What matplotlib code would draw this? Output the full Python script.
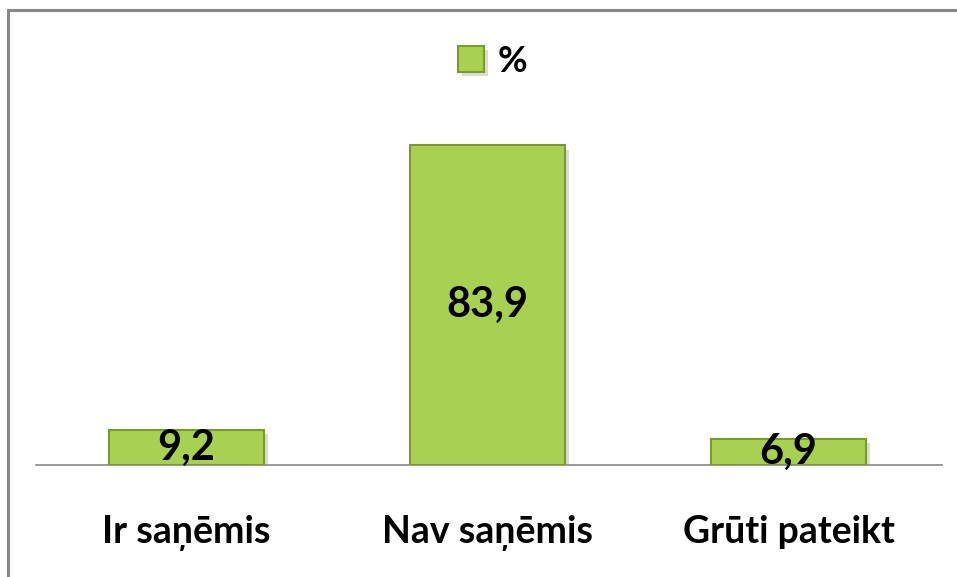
import matplotlib.pyplot as plt
from matplotlib.patches import Rectangle
import matplotlib.patheffects as pe

categories = ['Ir saņēmis', 'Nav saņēmis', 'Grūti pateikt']
values = [9.2, 83.9, 6.9]
value_labels = ['9,2', '83,9', '6,9']
series_name = '%'

plt.rcParams['font.family'] = ['Lato', 'DejaVu Sans']

W, H = 957, 577
fig = plt.figure(figsize=(W / 100, H / 100), dpi=100)
ax = fig.add_axes([36 / W, (H - 465) / H, (942 - 36) / W, (465 - 84) / H])

x = range(len(categories))
bars = ax.bar(x, values, width=0.515, color='#a8d152', edgecolor='#7a9a30',
              linewidth=1.5, label=series_name, zorder=3)
for b in bars:
    b.set_path_effects([pe.SimplePatchShadow(offset=(3, -3), shadow_rgbFace='#999999', alpha=0.35),
                        pe.Normal()])

for i, (v, t) in enumerate(zip(values, value_labels)):
    ax.text(i, v / 2, t, ha='center', va='center', fontsize=30, fontweight='bold',
            color='black', zorder=5)

ax.set_xlim(-0.5, 2.51)
ax.set_ylim(0, 100)
ax.set_xticks(list(x))
ax.set_xticklabels(categories, fontsize=27, fontweight='bold')
ax.tick_params(axis='x', length=0, pad=36)
ax.set_yticks([])
for s in ['top', 'right', 'left']:
    ax.spines[s].set_visible(False)
ax.spines['bottom'].set_color('#888888')
ax.spines['bottom'].set_linewidth(1.2)

leg = fig.legend(loc='center', bbox_to_anchor=(493 / W, (H - 61) / H), frameon=False,
                 handlelength=0.7, handleheight=0.7, handletextpad=0.4,
                 prop={'weight': 'bold', 'size': 26})

fig.add_artist(Rectangle((8 / W, -0.1), 1.2, (H - 10) / H + 0.1, transform=fig.transFigure,
                         fill=False, edgecolor='#888888', linewidth=2.2))

fig.savefig('out.png', dpi=100)
